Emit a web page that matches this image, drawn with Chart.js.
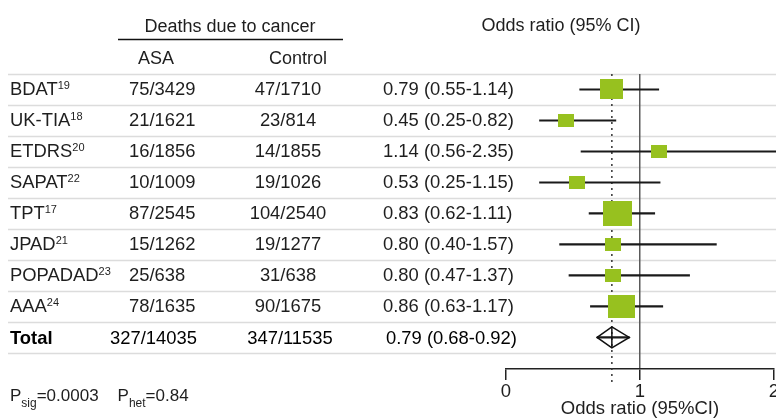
<!DOCTYPE html>
<html>
<head>
<meta charset="utf-8">
<script src="https://cdn.jsdelivr.net/npm/chart.js@4"></script>
<style>
  html, body { margin: 0; padding: 0; background: #fff; }
  #wrap { width: 776px; height: 420px; }
</style>
</head>
<body>
<div id="wrap"><canvas id="c" width="776" height="420"></canvas></div>
<script>
// Per-study data
const studies = ['BDAT', 'UK-TIA', 'ETDRS', 'SAPAT', 'TPT', 'JPAD', 'POPADAD', 'AAA'];
const refs = ['19', '18', '20', '22', '17', '21', '23', '24'];
const asaDeaths = ['75/3429', '21/1621', '16/1856', '10/1009', '87/2545', '15/1262', '25/638', '78/1635'];
const controlDeaths = ['47/1710', '23/814', '14/1855', '19/1026', '104/2540', '19/1277', '31/638', '90/1675'];
const oddsRatio = [0.79, 0.45, 1.14, 0.53, 0.83, 0.80, 0.80, 0.86];
const ciLow = [0.55, 0.25, 0.56, 0.25, 0.62, 0.40, 0.47, 0.63];
const ciHigh = [1.14, 0.82, 2.35, 1.15, 1.11, 1.57, 1.37, 1.17];

// Pooled result
const totalLabel = 'Total';
const totalAsa = '327/14035';
const totalControl = '347/11535';
const totalOr = 0.79;
const totalLow = 0.68;
const totalHigh = 0.92;

// Axis ticks and test statistics
const xTicks = [0, 1, 2];
const pSig = '0.0003';
const pHet = '0.84';

const FONT = '"Liberation Sans", Arial, Helvetica, sans-serif';
const INK = '#1e1e1e';
const GREEN = '#97c11f';
const n = studies.length;

const deaths = s => parseInt(s.split('/')[0], 10);
const fmt = v => v.toFixed(2);
const orText = (o, l, h) => `${fmt(o)} (${fmt(l)}-${fmt(h)})`;

// Box area follows the number of events in each study
function boxImage(i) {
  const events = deaths(asaDeaths[i]) + deaths(controlDeaths[i]);
  const s = Math.max(15, 2 * Math.sqrt(events));
  const cv = document.createElement('canvas');
  cv.width = Math.round(s + 1);
  cv.height = Math.round(s - 2.5);
  const g = cv.getContext('2d');
  g.fillStyle = GREEN;
  g.fillRect(0, 0, cv.width, cv.height);
  return cv;
}
const boxes = studies.map((_, i) => boxImage(i));

const ciData = studies.map((_, i) => ({ x: [ciLow[i], ciHigh[i]], y: i }))
  .concat([{ x: [totalLow, totalHigh], y: n }]);
const pointData = studies.map((_, i) => ({ x: oddsRatio[i], y: i }));

// Light separators between table rows, across the full width
const rowLines = {
  id: 'rowLines',
  beforeDraw(chart) {
    const ctx = chart.ctx, ys = chart.scales.y;
    ctx.save();
    ctx.strokeStyle = '#dcdcdc';
    ctx.lineWidth = 1.5;
    for (let i = 0; i <= n + 1; i++) {
      const y = Math.round(ys.getPixelForValue(i - 0.5)) + 0.5;
      ctx.beginPath();
      ctx.moveTo(8, y);
      ctx.lineTo(chart.width, y);
      ctx.stroke();
    }
    ctx.restore();
  }
};

// Dotted line at the pooled estimate
const pooledLine = {
  id: 'pooledLine',
  beforeDatasetsDraw(chart) {
    const ctx = chart.ctx, xs = chart.scales.x, a = chart.chartArea;
    const x = xs.getPixelForValue(totalOr);
    ctx.save();
    ctx.strokeStyle = '#333';
    ctx.lineWidth = 1.5;
    ctx.setLineDash([2, 4]);
    ctx.beginPath();
    ctx.moveTo(x, a.top);
    ctx.lineTo(x, a.bottom + 16);
    ctx.stroke();
    ctx.restore();
  }
};

// Pooled diamond spanning its confidence interval
const diamond = {
  id: 'diamond',
  afterDatasetsDraw(chart) {
    const ctx = chart.ctx, xs = chart.scales.x, ys = chart.scales.y;
    const yc = ys.getPixelForValue(n);
    const xl = xs.getPixelForValue(totalLow);
    const xm = xs.getPixelForValue(totalOr);
    const xh = xs.getPixelForValue(totalHigh);
    const hh = 10.5;
    ctx.save();
    ctx.strokeStyle = '#111';
    ctx.lineWidth = 1.5;
    ctx.beginPath();
    ctx.moveTo(xl, yc);
    ctx.lineTo(xm, yc - hh);
    ctx.lineTo(xh, yc);
    ctx.lineTo(xm, yc + hh);
    ctx.closePath();
    ctx.stroke();
    ctx.beginPath();
    ctx.moveTo(xm, yc - hh);
    ctx.lineTo(xm, yc + hh);
    ctx.stroke();
    ctx.restore();
  }
};

// Table columns, headers and footnote
const table = {
  id: 'table',
  afterDraw(chart) {
    const ctx = chart.ctx, ys = chart.scales.y;
    ctx.save();
    ctx.fillStyle = INK;
    ctx.textBaseline = 'alphabetic';

    ctx.font = `18px ${FONT}`;
    ctx.textAlign = 'center';
    ctx.fillText('Deaths due to cancer', 230, 32);
    ctx.fillText('ASA', 156, 64);
    ctx.fillText('Control', 298, 64);
    ctx.fillText('Odds ratio (95% CI)', 561, 31);

    ctx.strokeStyle = '#111';
    ctx.lineWidth = 1.5;
    ctx.beginPath();
    ctx.moveTo(118, 39.5);
    ctx.lineTo(343, 39.5);
    ctx.stroke();

    const body = `18.4px ${FONT}`;
    for (let i = 0; i < n; i++) {
      const yb = ys.getPixelForValue(i) + 6;
      ctx.font = body;
      ctx.textAlign = 'left';
      ctx.fillText(studies[i], 10, yb);
      const w = ctx.measureText(studies[i]).width;
      ctx.font = `11px ${FONT}`;
      ctx.fillText(refs[i], 10 + w, yb - 6);
      ctx.font = body;
      ctx.fillText(asaDeaths[i], 129, yb);
      ctx.textAlign = 'center';
      ctx.fillText(controlDeaths[i], 288, yb);
      ctx.textAlign = 'left';
      ctx.fillText(orText(oddsRatio[i], ciLow[i], ciHigh[i]), 383, yb);
    }

    const yt = ys.getPixelForValue(n) + 7;
    ctx.fillStyle = '#000';
    ctx.font = `bold 18.4px ${FONT}`;
    ctx.textAlign = 'left';
    ctx.fillText(totalLabel, 10, yt);
    ctx.font = body;
    ctx.fillText(totalAsa, 110, yt);
    ctx.textAlign = 'center';
    ctx.fillText(totalControl, 290, yt);
    ctx.textAlign = 'left';
    ctx.fillText(orText(totalOr, totalLow, totalHigh), 386, yt);

    // P values with subscripts
    ctx.fillStyle = INK;
    let x = 10;
    const yp = 401;
    const part = (txt, size, dy) => {
      ctx.font = `${size}px ${FONT}`;
      ctx.fillText(txt, x, yp + dy);
      x += ctx.measureText(txt).width;
    };
    part('P', 17, 0); part('sig', 12, 6); part('=' + pSig, 17, 0);
    x += 19;
    part('P', 17, 0); part('het', 12, 6); part('=' + pHet, 17, 0);
    ctx.restore();
  }
};

new Chart(document.getElementById('c'), {
  type: 'bar',
  data: {
    datasets: [
      {
        type: 'scatter',
        data: pointData,
        pointStyle: ctx => boxes[ctx.dataIndex],
        order: 1
      },
      {
        type: 'bar',
        indexAxis: 'y',
        data: ciData,
        backgroundColor: '#1a1a1a',
        borderWidth: 0,
        barThickness: 1.5,
        clip: false,
        order: 2
      }
    ]
  },
  options: {
    responsive: false,
    devicePixelRatio: 1,
    animation: false,
    layout: { autoPadding: false, padding: { left: 506, right: 2, top: 74, bottom: 0 } },
    plugins: { legend: { display: false }, tooltip: { enabled: false } },
    scales: {
      x: {
        type: 'linear',
        offset: false,
        min: 0,
        max: 2,
        afterBuildTicks: s => { s.ticks = xTicks.map(v => ({ value: v })); },
        afterFit: s => { s.height = 51; s.paddingLeft = 0; s.paddingRight = 0; },
        grid: {
          offset: false,
          drawOnChartArea: true,
          color: c => (c.tick && c.tick.value === 1 ? '#5a5a5a' : 'rgba(0,0,0,0)'),
          lineWidth: 1.5,
          tickLength: 11,
          tickColor: '#222',
          tickWidth: 1.5
        },
        border: { display: true, color: '#222', width: 1.5 },
        ticks: { color: INK, font: { family: FONT, size: 18.5 }, padding: 1, maxRotation: 0 },
        title: {
          display: true,
          text: 'Odds ratio (95%CI)',
          color: INK,
          font: { family: FONT, size: 18.5 },
          padding: 0
        }
      },
      y: {
        type: 'linear',
        offset: false,
        grid: { offset: false },
        display: false,
        reverse: true,
        min: -0.5,
        max: n + 0.5 + 0.52
      }
    }
  },
  plugins: [rowLines, pooledLine, diamond, table]
});
</script>
</body>
</html>
